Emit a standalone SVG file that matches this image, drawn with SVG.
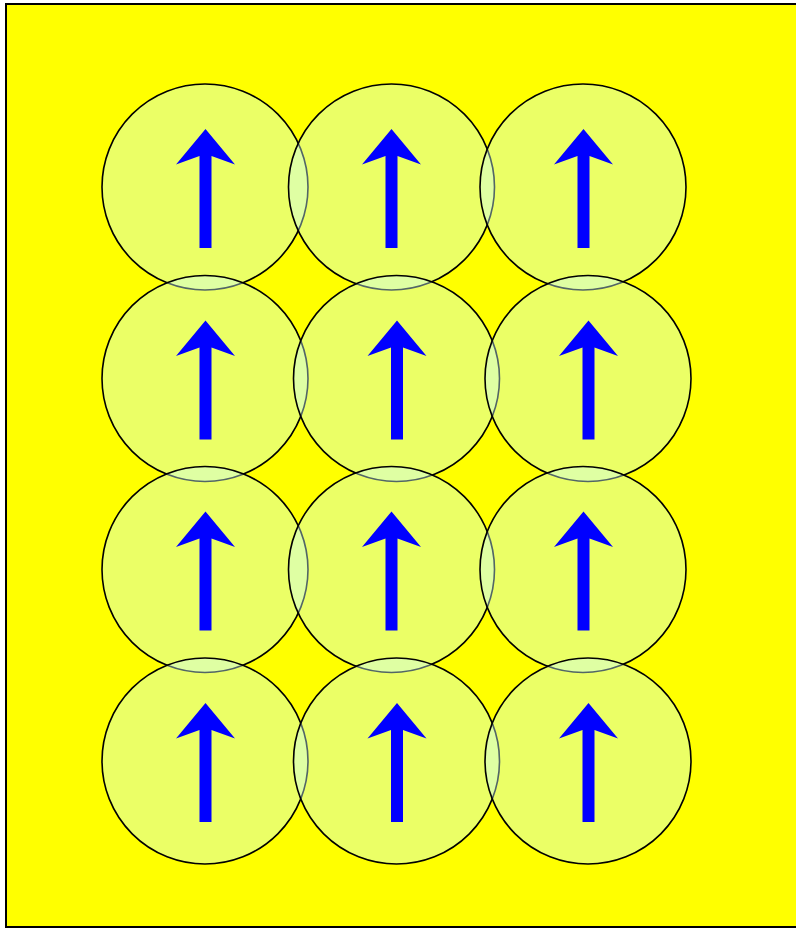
<svg xmlns="http://www.w3.org/2000/svg" xmlns:xlink="http://www.w3.org/1999/xlink" width="796" height="928" viewBox="0 0 796 928">
<style>
.cell{fill:#ccffff;fill-opacity:0.4;stroke:#000;stroke-width:1.6}
.arr{fill:#0000ff}
</style>
<defs>
<path id="arrow" class="arr" d="M0.5,-58 L30,-22.5 L6.5,-31 L6.5,61 L-5.5,61 L-5.5,-31 L-29,-22.5 Z"/>
</defs>
<rect x="6" y="4" width="800" height="923" fill="#ffff00" stroke="#000" stroke-width="2"/>
<g id="nodes">
<g id="n1"><circle class="cell" cx="205" cy="187" r="103"/><use xlink:href="#arrow" href="#arrow" x="205" y="187"/></g>
<g id="n2"><circle class="cell" cx="391.5" cy="187" r="103"/><use xlink:href="#arrow" href="#arrow" x="391" y="187"/></g>
<g id="n3"><circle class="cell" cx="583" cy="187" r="103"/><use xlink:href="#arrow" href="#arrow" x="583" y="187"/></g>
<g id="n4"><circle class="cell" cx="205" cy="378.5" r="103"/><use xlink:href="#arrow" href="#arrow" x="205" y="378.5"/></g>
<g id="n5"><circle class="cell" cx="396.5" cy="378.5" r="103"/><use xlink:href="#arrow" href="#arrow" x="396.5" y="378.5"/></g>
<g id="n6"><circle class="cell" cx="588" cy="378.5" r="103"/><use xlink:href="#arrow" href="#arrow" x="588" y="378.5"/></g>
<g id="n7"><circle class="cell" cx="205" cy="569.5" r="103"/><use xlink:href="#arrow" href="#arrow" x="205" y="569.5"/></g>
<g id="n8"><circle class="cell" cx="391.5" cy="569.5" r="103"/><use xlink:href="#arrow" href="#arrow" x="391" y="569.5"/></g>
<g id="n9"><circle class="cell" cx="583" cy="569.5" r="103"/><use xlink:href="#arrow" href="#arrow" x="583" y="569.5"/></g>
<g id="n10"><circle class="cell" cx="205" cy="761" r="103"/><use xlink:href="#arrow" href="#arrow" x="205" y="761"/></g>
<g id="n11"><circle class="cell" cx="396.5" cy="761" r="103"/><use xlink:href="#arrow" href="#arrow" x="396.5" y="761"/></g>
<g id="n12"><circle class="cell" cx="588" cy="761" r="103"/><use xlink:href="#arrow" href="#arrow" x="588" y="761"/></g>
</g>
<g id="connectors"/>
</svg>
